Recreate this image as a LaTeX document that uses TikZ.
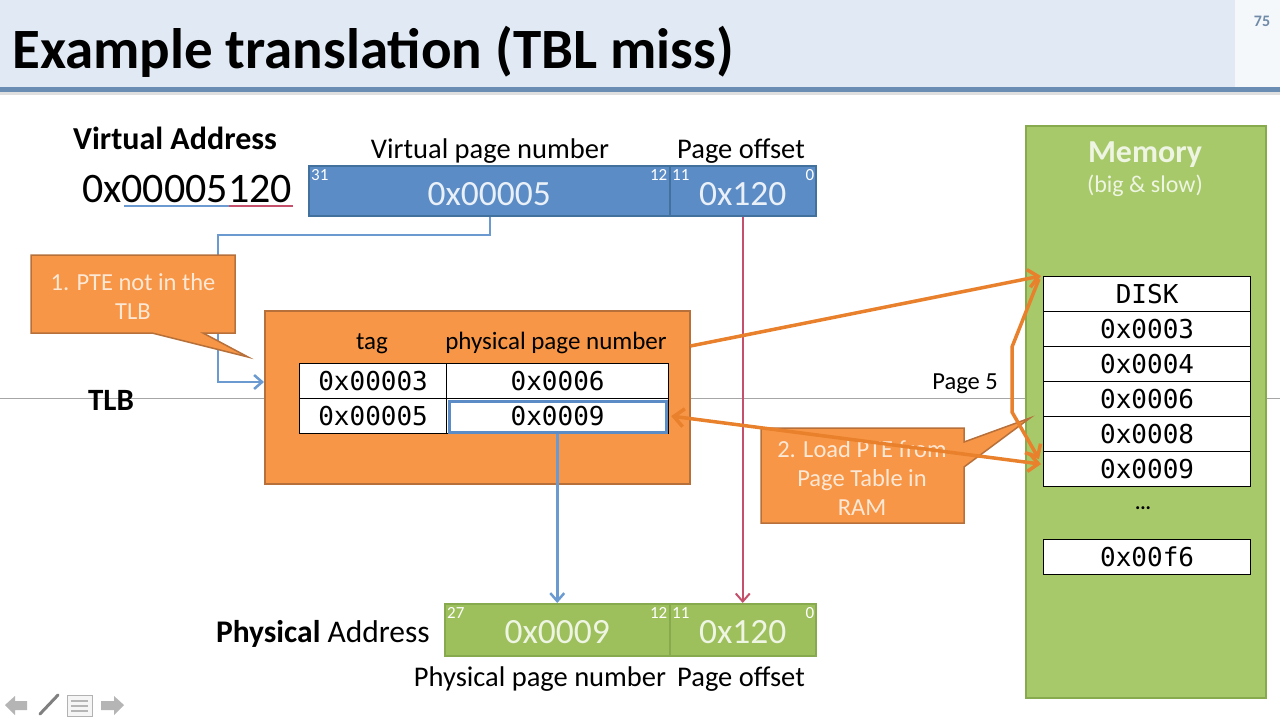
\documentclass[tikz,border=0pt]{standalone}
\usepackage{fontspec}
\setmainfont{Carlito}
\newfontfamily\codefont{DejaVu Sans Mono}
\usetikzlibrary{arrows.meta,calc}
\definecolor{bandfill}{HTML}{E1EAF4}
\definecolor{bandline}{HTML}{6A8DB3}
\definecolor{vafill}{HTML}{5B8CC5}
\definecolor{vadraw}{HTML}{41719C}
\definecolor{orfill}{HTML}{F79646}
\definecolor{ordraw}{HTML}{B7703A}
\definecolor{orarrow}{HTML}{E8802C}
\definecolor{grfill}{HTML}{A8C96A}
\definecolor{grdraw}{HTML}{88AA4E}
\definecolor{pafill}{HTML}{9DBF5C}
\definecolor{bluecon}{HTML}{6A9AD0}
\definecolor{redcon}{HTML}{C4506B}
\definecolor{lighttext}{HTML}{E9F0F8}
\definecolor{callouttext}{HTML}{FDE8D6}
\definecolor{greentext}{HTML}{EEF5E2}
\definecolor{pagenum}{HTML}{6F8BA8}
\definecolor{navgray}{HTML}{B5B5B5}
\begin{document}
\begin{tikzpicture}[x=1pt,y=-1pt,
  txt/.style={font=\fontsize{#1}{#1}\selectfont, inner sep=0pt},
  btxt/.style={font=\fontsize{#1}{#1}\selectfont\bfseries, inner sep=0pt},
  bitlbl/.style={font=\fontsize{17}{17}\selectfont, text=white, inner sep=0pt},
  vabox/.style={draw=vadraw, fill=vafill, line width=1.5pt, inner sep=0pt, anchor=north west},
  pabox/.style={draw=grdraw, fill=pafill, line width=1.5pt, inner sep=0pt, anchor=north west},
  bartext/.style={font=\fontsize{#1}{#1}\selectfont, inner sep=0pt},
  cell/.style={draw=black, fill=white, line width=1.2pt, inner sep=0pt, anchor=north west,
    font=\codefont\fontsize{26}{26}\selectfont},
  orbox/.style={draw=ordraw, fill=orfill, line width=1.5pt},
  calltext/.style={font=\fontsize{24.5}{29}\selectfont, text=callouttext, align=center, inner sep=0pt},
  bluearrow/.style={draw=bluecon, line width=2.5pt, -{Straight Barb[length=8pt,width=14pt,line width=2.5pt]}},
  redarrow/.style={draw=redcon, line width=2pt, -{Straight Barb[length=8pt,width=14pt,line width=2pt]}},
  orarrowst/.style={draw=orarrow, line width=3.5pt, line join=round},
  orhead/.style={-{Straight Barb[length=10pt,width=18pt,line width=3.5pt]}},
]
\useasboundingbox (0,0) rectangle (1280,720);
\fill[white] (0,0) rectangle (1280,720);
% title band
\fill[bandfill] (0,0) rectangle (1235,88);
\fill[bandfill!35] (1235,0) rectangle (1280,88);
\fill[gray!25] (0,91) rectangle (1280,95);
\fill[bandline] (0,87) rectangle (1280,92);
\node[btxt=57, anchor=base west] (title) at (12,68) {Example translation (TBL miss)};
\node[btxt=16, text=pagenum] (pnum) at (1262,21) {75};
% grey guide line
\draw[gray!70, line width=0.8pt] (0,398) -- (1025,398);
\draw[gray!70, line width=0.8pt] (1265,398) -- (1280,398);

% virtual address
\node[btxt=32, anchor=base] (vatitle) at (175,149) {Virtual Address};
\node[txt=42, anchor=base west] (vaval) at (82,202) {0x00005120};
\draw[bluecon, line width=1.5pt] (124,206) -- (229,206);
\draw[redcon, line width=1.5pt] (229,206) -- (293,206);

\node[vabox, minimum width=361pt, minimum height=50pt] (vpn) at (308,165) {};
\node[vabox, minimum width=146pt, minimum height=50pt] (voff) at (669,165) {};
\node[bartext=35.5, text=lighttext] (vpntext) at ($(vpn.center)+(0,3)$) {0x00005};
\node[bartext=35.5, text=lighttext] (vofftext) at ($(voff.center)+(0,3)$) {0x120};
\node[bitlbl, anchor=north west] (b31) at ($(vpn.north west)+(3,4)$) {31};
\node[bitlbl, anchor=north east] (b12) at ($(vpn.north east)+(-3,4)$) {12};
\node[bitlbl, anchor=north west] (b11) at ($(voff.north west)+(3,4)$) {11};
\node[bitlbl, anchor=north east] (b0) at ($(voff.north east)+(-2,4)$) {0};
\node[txt=28.5, anchor=base] (vpnlbl) at (490,158) {Virtual page number};
\node[txt=28.5, anchor=base] (vofflbl) at (741,158) {Page offset};

% TLB
\node[btxt=31, anchor=base] (tlblbl) at (111,410) {TLB};
\node[orbox, minimum width=425pt, minimum height=173pt, anchor=north west, inner sep=0pt] (tlb) at (264,310) {};
\node[txt=25, anchor=base] (taghdr) at (372,349) {tag};
\node[txt=25, anchor=base] (ppnhdr) at (556,349) {physical page number};
\node[cell, minimum width=147pt, minimum height=35pt] (t1a) at (299,363) {0x00003};
\node[cell, minimum width=222pt, minimum height=35pt] (t1b) at (446,363) {0x0006};
\node[cell, minimum width=147pt, minimum height=35pt] (t2a) at (299,398) {0x00005};
\node[cell, minimum width=222pt, minimum height=35pt] (t2b) at (446,398) {0x0009};
\draw[vafill, line width=3pt] ($(t2b.north west)+(3,3)$) rectangle ($(t2b.south east)+(-3,-2)$);

% blue connector VPN -> TLB
\coordinate (bl1) at (490,235);
\coordinate (bl2) at (218,235);
\coordinate (bl3) at (218,382);
\draw[bluearrow] (vpn.south -| bl1) -- (bl1) -- (bl2) -- (bl3) -- (bl3 -| tlb.west);

% callout 1
\draw[orbox] (31,255) -- (235,255) -- (235,333) -- (203,333) -- (248,357) -- (152,333) -- (31,333) -- cycle;
\node[calltext] (c1) at (133,296) {1. PTE not in the\\TLB};

% memory
\node[draw=grdraw, fill=grfill, line width=1.5pt, minimum width=240pt, minimum height=572pt, anchor=north west, inner sep=0pt] (mem) at (1025,125) {};
\node[btxt=32, text=greentext] (memt) at (1145,155) {Memory};
\node[txt=24, text=greentext] (mems) at (1145,186) {(big \& slow)};
\node[cell, minimum width=207pt, minimum height=35pt] (m0) at (1043,276) {DISK};
\node[cell, minimum width=207pt, minimum height=35pt] (m1) at (1043,311) {0x0003};
\node[cell, minimum width=207pt, minimum height=35pt] (m2) at (1043,346) {0x0004};
\node[cell, minimum width=207pt, minimum height=35pt] (m3) at (1043,381) {0x0006};
\node[cell, minimum width=207pt, minimum height=35pt] (m4) at (1043,416) {0x0008};
\node[cell, minimum width=207pt, minimum height=35pt] (m5) at (1043,451) {0x0009};
\node[btxt=20] (mdots) at (1143,508) {...};
\node[cell, minimum width=207pt, minimum height=35pt] (m6) at (1043,539) {0x00f6};
\node[txt=24.5, anchor=base east] (page5) at (998,389) {Page 5};

% physical address
\node[pabox, minimum width=225pt, minimum height=52pt] (ppn) at (444,603) {};
\node[pabox, minimum width=146pt, minimum height=52pt] (poff) at (669,603) {};
\node[bartext=35.5, text=greentext] (ppntext) at ($(ppn.center)+(0,2)$) {0x0009};
\node[bartext=35.5, text=greentext] (pofftext) at ($(poff.center)+(0,2)$) {0x120};
\node[bitlbl, anchor=north west] (p27) at ($(ppn.north west)+(3,4)$) {27};
\node[bitlbl, anchor=north east] (p12) at ($(ppn.north east)+(-3,4)$) {12};
\node[bitlbl, anchor=north west] (p11) at ($(poff.north west)+(3,4)$) {11};
\node[bitlbl, anchor=north east] (p0) at ($(poff.north east)+(-2,4)$) {0};
\node[txt=31.5, anchor=base east] (palbl) at (430,642) {\textbf{Physical} Address};
\node[txt=28.5, anchor=base] (ppnlbl) at (540,686) {Physical page number};
\node[txt=28.5, anchor=base] (pofflbl) at (741,686) {Page offset};

% vertical connectors
\draw[bluearrow] (t2b.south -| ppn.center) -- (ppn.north);
\draw[redarrow] (voff.south) -- (poff.north);

% callout 2
\draw[orbox] (761,428) -- (964,428) -- (964,442) -- (1030,418) -- (964,467) -- (964,523) -- (761,523) -- cycle;
\node[calltext] (c2) at (862,478) {2. Load PTE from\\Page Table in\\RAM};

% orange arrows
\draw[orarrowst, orhead] ($(tlb.north east)+(0,36)$) -- ($(m0.north west)+(-2,0)$);
\draw[orarrowst, {Straight Barb[length=10pt,width=18pt,line width=3.5pt]}-{Straight Barb[length=10pt,width=18pt,line width=3.5pt]}] ($(t2b.east)+(2,0)$) -- ($(m5.west)+(-2,-5)$);
\coordinate (br1) at (1012,347);
\coordinate (br2) at (1012,412);
\draw[orarrowst, orhead] ($(m0.north west)+(-4,3)$) -- (br1) -- (br2) -- ($(m5.west)+(-4,-10)$);

% navigation icons
\fill[navgray] (5,705) -- (15,696) -- (15,701) -- (27,701) -- (27,710) -- (15,710) -- (15,715) -- cycle;
\fill[navgray] (124,705) -- (114,696) -- (114,701) -- (101,701) -- (101,710) -- (114,710) -- (114,715) -- cycle;
\draw[gray, line width=3pt, line cap=round] (40,714) -- (58,695);
\draw[gray!60, fill=gray!8, line width=0.8pt] (67,695) rectangle (92,716);
\draw[navgray, line width=2pt] (71,701) -- (88,701) (71,706) -- (88,706) (71,711) -- (88,711);
\end{tikzpicture}
\end{document}
